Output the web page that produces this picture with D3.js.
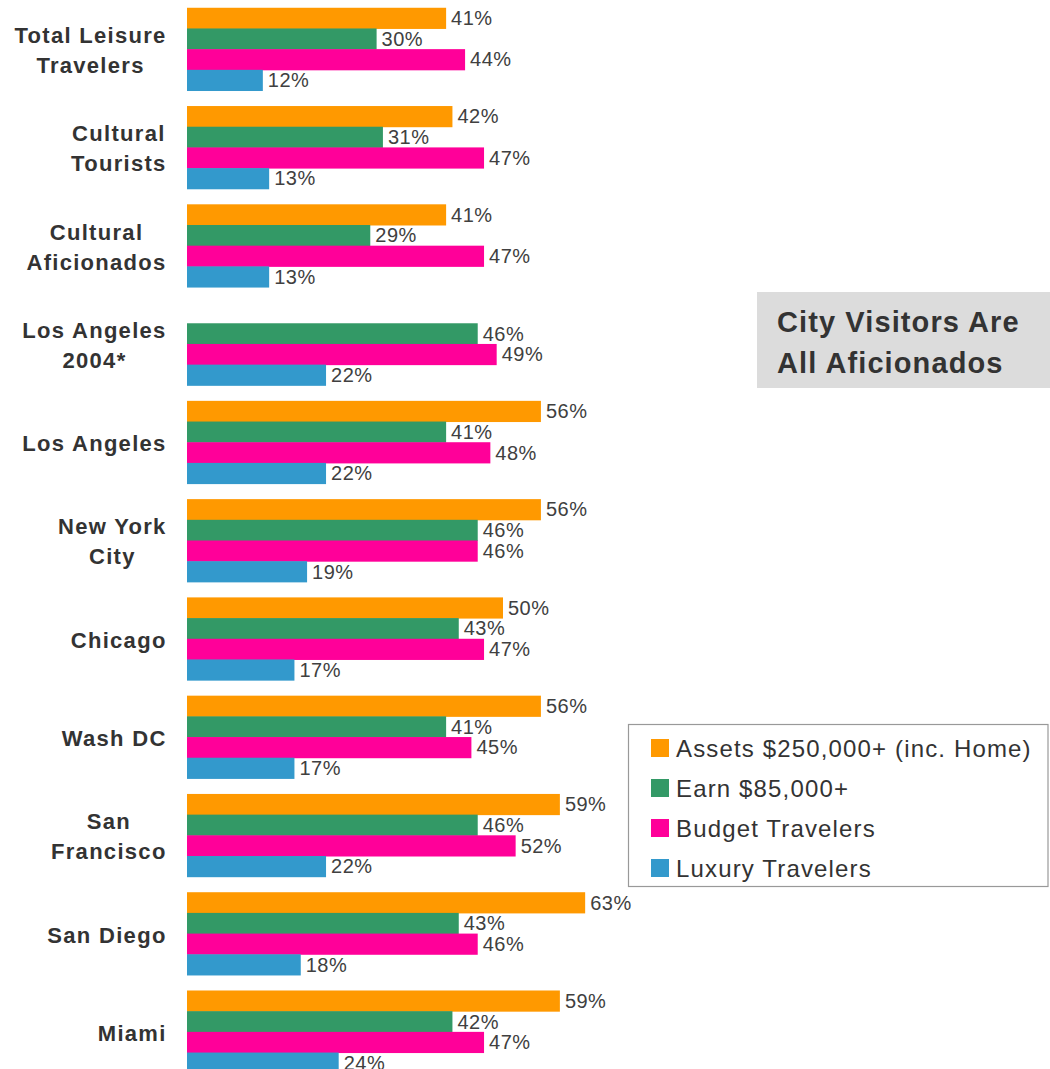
<!DOCTYPE html>
<html>
<head>
<meta charset="utf-8">
<script src="https://cdn.jsdelivr.net/npm/d3@7"></script>
<style>
  body { margin: 0; background: #fff; }
  svg { display: block; font-family: "Liberation Sans", Arimo, Arial, sans-serif; }
</style>
</head>
<body>
<svg id="chart"></svg>
<script>
// data
const categories = [
  ['Total Leisure', 'Travelers'],
  ['Cultural', 'Tourists'],
  ['Cultural', 'Aficionados'],
  ['Los Angeles', '2004*'],
  ['Los Angeles'],
  ['New York', 'City'],
  ['Chicago'],
  ['Wash DC'],
  ['San', 'Francisco'],
  ['San Diego'],
  ['Miami']
];
const seriesNames = ['Assets $250,000+ (inc. Home)', 'Earn $85,000+', 'Budget Travelers', 'Luxury Travelers'];
const seriesColors = ['#FF9900', '#339966', '#FF0099', '#3399CC'];
const assets = [41, 42, 41, null, 56, 56, 50, 56, 59, 63, 59];
const earn = [30, 31, 29, 46, 41, 46, 43, 41, 46, 43, 42];
const budget = [44, 47, 47, 49, 48, 46, 47, 45, 52, 46, 47];
const luxury = [12, 13, 13, 22, 22, 19, 17, 17, 22, 18, 24];
const title = ['City Visitors Are', 'All Aficionados'];

const w = 1050;
const h = 1069;
const svg = d3.select('#chart').attr('width', w).attr('height', h);

const series = [assets, earn, budget, luxury];
const rows = categories.map((c, i) => ({
  key: i,
  label: c,
  values: series.map((s, j) => ({ s: j, v: s[i] }))
}));

// scales
const yGroup = d3.scaleBand()
  .domain(rows.map(r => r.key))
  .range([0, 1081])
  .paddingInner(0.158)
  .paddingOuter(0.079);
const ySeries = d3.scaleBand()
  .domain(d3.range(series.length))
  .range([0, yGroup.bandwidth()]);
const xScale = d3.scaleLinear()
  .domain([0, 100])
  .range([187, 819]);

// bars + value labels
const groups = svg.selectAll('.group')
  .data(rows)
  .join('g')
    .attr('class', 'group')
    .attr('transform', d => `translate(0, ${yGroup(d.key)})`);

const vals = d => d.values.filter(v => v.v != null);

groups.selectAll('rect')
  .data(vals)
  .join('rect')
    .attr('x', xScale(0))
    .attr('y', d => ySeries(d.s))
    .attr('width', d => xScale(d.v) - xScale(0))
    .attr('height', ySeries.bandwidth() + 0.5)
    .attr('fill', d => seriesColors[d.s]);

groups.selectAll('.val')
  .data(vals)
  .join('text')
    .attr('class', 'val')
    .attr('x', d => xScale(d.v) + 5)
    .attr('y', d => ySeries(d.s) + ySeries.bandwidth() / 2 + 7)
    .attr('font-size', 20)
    .attr('letter-spacing', 0.5)
    .attr('fill', '#404040')
    .text(d => d.v + '%');

// category labels, block right aligned, lines centred
groups.each(function(d) {
  const g = d3.select(this);
  const cy = yGroup.bandwidth() / 2 + 9;
  const n = d.label.length;
  const t = g.selectAll('.cat')
    .data(d.label)
    .join('text')
      .attr('class', 'cat')
      .attr('font-size', 22)
      .attr('font-weight', 'bold')
      .attr('letter-spacing', 1.3)
      .attr('fill', '#333')
      .attr('text-anchor', 'middle')
      .attr('y', (s, i) => cy + (i - (n - 1) / 2) * 30)
      .text(s => s);
  const maxW = d3.max(t.nodes(), nd => nd.getComputedTextLength()) - 1.3;
  t.attr('x', 166 - maxW / 2);
});

// title box
svg.append('rect')
  .attr('x', 757).attr('y', 292)
  .attr('width', 293).attr('height', 96)
  .attr('fill', '#DCDCDC');
svg.selectAll('.title')
  .data(title)
  .join('text')
    .attr('class', 'title')
    .attr('x', 777)
    .attr('y', (s, i) => 332 + i * 41)
    .attr('font-size', 29)
    .attr('font-weight', 'bold')
    .attr('letter-spacing', 1.1)
    .attr('fill', '#333')
    .text(s => s);

// legend
const legend = svg.append('g');
legend.append('rect')
  .attr('x', 628.5).attr('y', 724.5)
  .attr('width', 419.5).attr('height', 162)
  .attr('fill', '#fff')
  .attr('stroke', '#999')
  .attr('stroke-width', 1.2);
const items = legend.selectAll('.item')
  .data(seriesNames)
  .join('g')
    .attr('class', 'item')
    .attr('transform', (s, i) => `translate(651, ${739 + i * 40})`);
items.append('rect')
  .attr('width', 18).attr('height', 18)
  .attr('fill', (s, i) => seriesColors[i]);
items.append('text')
  .attr('x', 25)
  .attr('y', 17.5)
  .attr('font-size', 24)
  .attr('letter-spacing', 1.15)
  .attr('fill', '#333')
  .text(s => s);
</script>
</body>
</html>
